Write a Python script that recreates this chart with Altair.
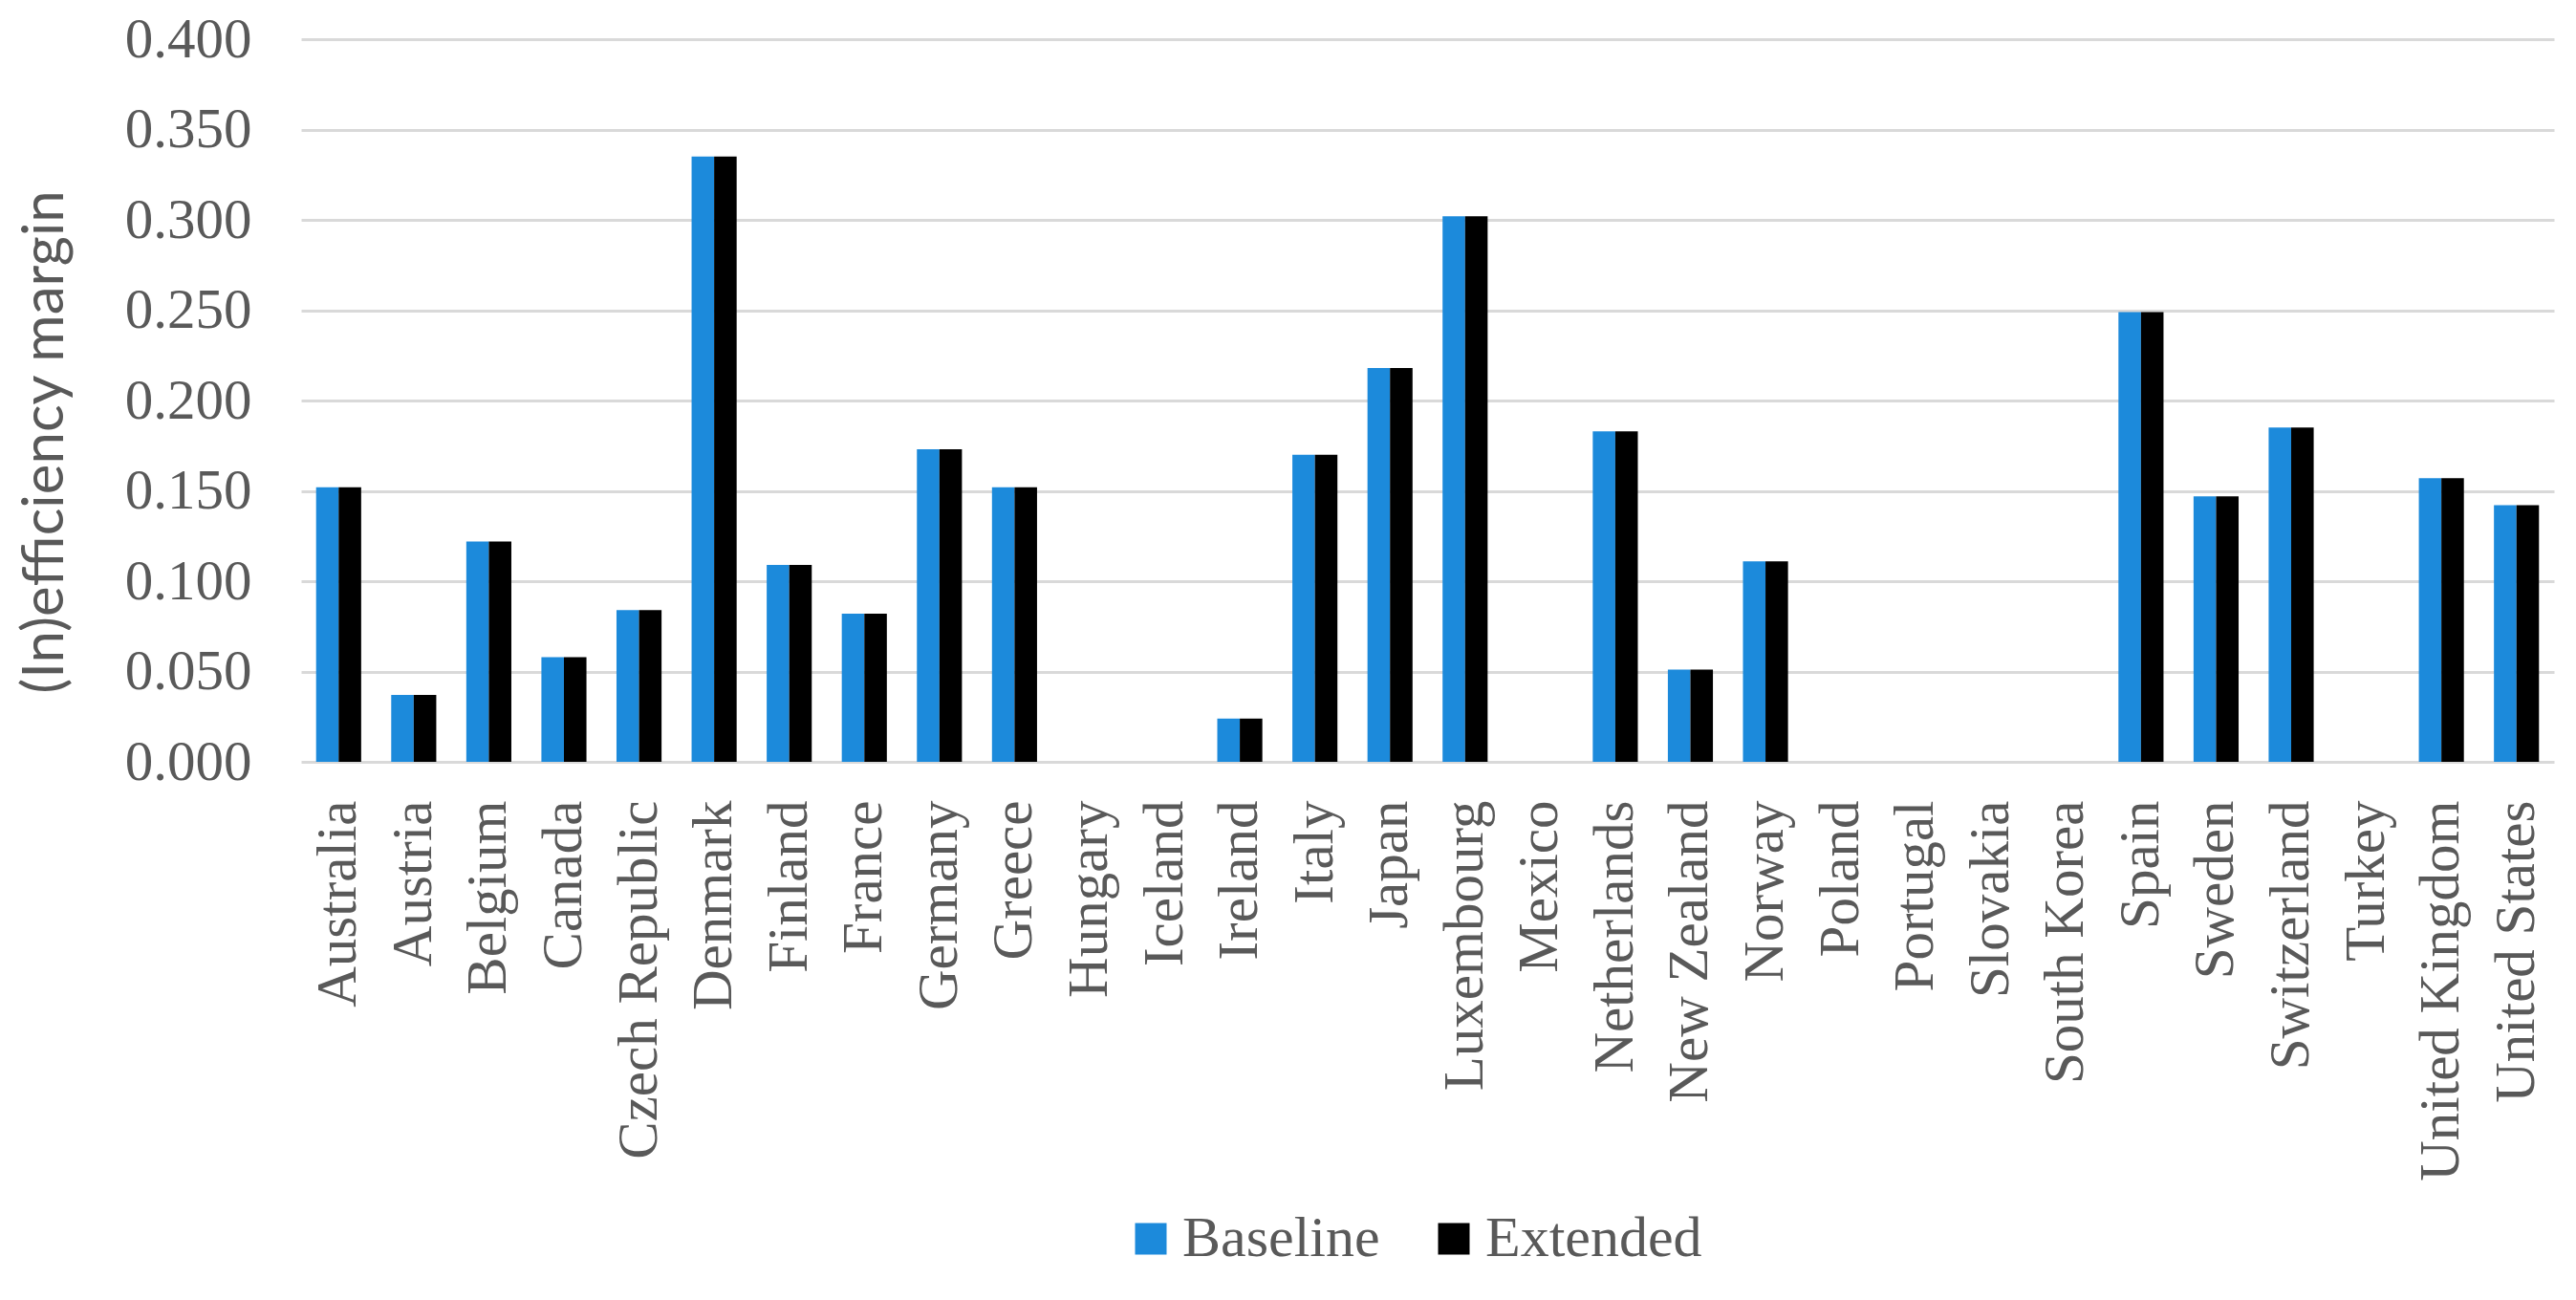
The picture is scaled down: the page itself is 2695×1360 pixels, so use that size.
import altair as alt
import pandas as pd

countries = ["Australia", "Austria", "Belgium", "Canada", "Czech Republic", "Denmark",
             "Finland", "France", "Germany", "Greece", "Hungary", "Iceland", "Ireland",
             "Italy", "Japan", "Luxembourg", "Mexico", "Netherlands", "New Zealand",
             "Norway", "Poland", "Portugal", "Slovakia", "South Korea", "Spain", "Sweden",
             "Switzerland", "Turkey", "United Kingdom", "United States"]
baseline = [0.152, 0.037, 0.122, 0.058, 0.084, 0.335, 0.109, 0.082, 0.173, 0.152,
            None, None, 0.024, 0.170, 0.218, 0.302, None, 0.183, 0.051, 0.111,
            None, None, None, None, 0.249, 0.147, 0.185, None, 0.157, 0.142]
extended = [0.152, 0.037, 0.122, 0.058, 0.084, 0.335, 0.109, 0.082, 0.173, 0.152,
            None, None, 0.024, 0.170, 0.218, 0.302, None, 0.183, 0.051, 0.111,
            None, None, None, None, 0.249, 0.147, 0.185, None, 0.157, 0.142]
series = ["Baseline", "Extended"]
colors = ["#1C8ADB", "#000000"]
y_ticks = [0.0, 0.05, 0.10, 0.15, 0.20, 0.25, 0.30, 0.35, 0.40]

rows = []
for c, b, e in zip(countries, baseline, extended):
    rows.append({"country": c, "series": "Baseline", "value": b})
    rows.append({"country": c, "series": "Extended", "value": e})
df = pd.DataFrame(rows)

TXT = "#595959"

chart = alt.Chart(df).mark_bar().encode(
    x=alt.X("country:N", sort=countries,
            scale=alt.Scale(paddingInner=0.4, paddingOuter=0.2),
            axis=alt.Axis(title=None, labelAngle=270, labelFont="Liberation Serif",
                          labelFontSize=59, labelColor=TXT, labelPadding=40,
                          ticks=False, domain=False, grid=False, labelLimit=0)),
    xOffset=alt.XOffset("series:N", sort=series,
                        scale=alt.Scale(paddingInner=0, paddingOuter=0)),
    y=alt.Y("value:Q", scale=alt.Scale(domain=[0, 0.4], nice=False),
            axis=alt.Axis(values=y_ticks, format=".3f", title="(In)efficiency margin",
                          labelFont="Liberation Serif", labelFontSize=59, labelColor=TXT,
                          labelPadding=52, ticks=False, domain=False,
                          gridColor="#D9D9D9", gridWidth=3,
                          titleFont="Lato", titleFontSize=60, titleFontWeight="normal",
                          titleColor=TXT, titleAngle=270, titleX=-268, titleY=421,
                          titleBaseline="middle", titleAlign="center", titleLimit=0)),
    color=alt.Color("series:N", scale=alt.Scale(domain=series, range=colors),
                    legend=alt.Legend(title=None, orient="none", direction="horizontal",
                                      legendX=859, legendY=1225,
                                      symbolType="square", symbolSize=1089,
                                      symbolStrokeWidth=0, symbolOpacity=1,
                                      labelFont="Liberation Serif", labelFontSize=60,
                                      labelColor=TXT, labelOffset=3, columnPadding=47,
                                      labelLimit=0, padding=0))
).properties(
    width=2357, height=756,
    autosize=alt.AutoSizeParams(type="none"),
    padding={"left": 307, "top": 33, "right": 12, "bottom": 540},
    background="white"
).configure_view(stroke=None)

chart.save("out.html", embed_options={"renderer": "svg", "actions": False})
